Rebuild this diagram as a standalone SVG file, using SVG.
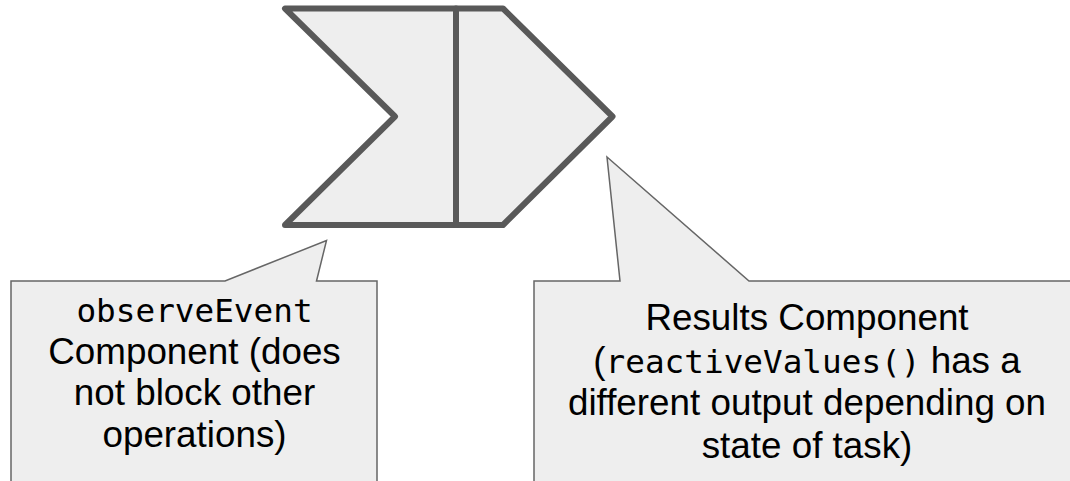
<svg xmlns="http://www.w3.org/2000/svg" width="1070" height="481" viewBox="0 0 1070 481">
  <style>
    .chev { fill: #eeeeee; stroke: #595959; stroke-width: 6; stroke-linejoin: round; stroke-linecap: round; }
    .callout { fill: #eeeeee; stroke: #666666; stroke-width: 1.5; stroke-linejoin: miter; }
    .lbl { font-family: "Liberation Sans", Arial, sans-serif; font-size: 36.8px; fill: #000000; text-anchor: middle; }
    .code { font-family: "DejaVu Sans Mono", "Liberation Mono", monospace; font-size: 32.7px; }
  </style>
  <rect width="1070" height="481" fill="#ffffff"/>

  <!-- two-stage chevron -->
  <g id="chevron">
    <polygon class="chev" points="285,8.5 503,8.5 612.5,116.5 503,225 285,225 395,116.5"/>
    <line class="chev" x1="456" y1="8.5" x2="456" y2="225"/>
  </g>

  <!-- callout for the observeEvent stage -->
  <g id="callout-observe">
    <path class="callout" d="M11,495 L11,281 L225,281 L326.5,240.5 L316.5,281 L377,281 L377,495 Z"/>
    <text class="lbl" x="194.5" y="322"><tspan class="code">observeEvent</tspan></text>
    <text class="lbl" x="194.5" y="363.5">Component (does</text>
    <text class="lbl" x="194.5" y="405">not block other</text>
    <text class="lbl" x="194.5" y="446.5">operations)</text>
  </g>

  <!-- callout for the results stage -->
  <g id="callout-results">
    <path class="callout" d="M534,495 L534,281 L620,281 L607,157 L749,281 L1085,281 L1085,495 Z"/>
    <text class="lbl" x="807" y="330">Results Component</text>
    <text class="lbl" x="807" y="372.5">(<tspan class="code">reactiveValues()</tspan> has a</text>
    <text class="lbl" x="807" y="415">different output depending on</text>
    <text class="lbl" x="807" y="457.5">state of task)</text>
  </g>

  <g id="connectors"></g>
</svg>
